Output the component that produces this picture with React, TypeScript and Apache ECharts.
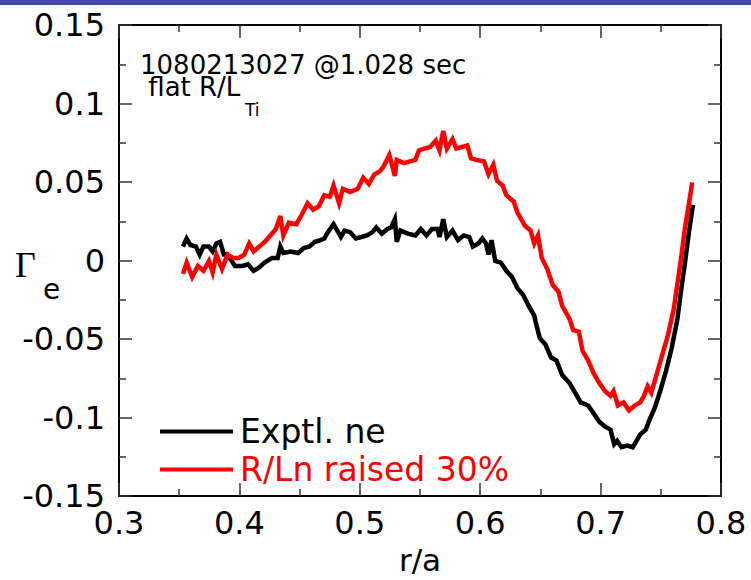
import React, { useEffect, useRef } from "react";
import * as echarts from "echarts";

// r/a positions and Γe values, Exptl. ne (black)
const expR = [0.3531, 0.3562, 0.3593, 0.3639, 0.3670, 0.3701, 0.3747, 0.3778, 0.3809, 0.3840, 0.3871, 0.3901, 0.3963, 0.4025, 0.4071, 0.4118, 0.4164, 0.4210, 0.4272, 0.4318, 0.4340, 0.4365, 0.4427, 0.4488, 0.4535, 0.4581, 0.4627, 0.4674, 0.4705, 0.4735, 0.4782, 0.4813, 0.4843, 0.4874, 0.4920, 0.4967, 0.5013, 0.5060, 0.5106, 0.5137, 0.5183, 0.5229, 0.5260, 0.5291, 0.5307, 0.5337, 0.5399, 0.5461, 0.5507, 0.5553, 0.5600, 0.5646, 0.5662, 0.5693, 0.5723, 0.5770, 0.5816, 0.5862, 0.5909, 0.5939, 0.5986, 0.6017, 0.6048, 0.6069, 0.6094, 0.6125, 0.6171, 0.6217, 0.6264, 0.6310, 0.6356, 0.6403, 0.6449, 0.6464, 0.6495, 0.6542, 0.6588, 0.6634, 0.6681, 0.6742, 0.6789, 0.6835, 0.6897, 0.6943, 0.6989, 0.7036, 0.7082, 0.7113, 0.7137, 0.7174, 0.7221, 0.7267, 0.7298, 0.7329, 0.7375, 0.7406, 0.7452, 0.7499, 0.7545, 0.7591, 0.7638, 0.7669, 0.7699, 0.7730, 0.7767];
const expG = [0.0089, 0.0140, 0.0099, 0.0089, 0.0038, 0.0089, 0.0089, 0.0058, 0.0109, 0.0119, 0.0038, 0.0038, -0.0034, -0.0034, -0.0024, -0.0065, -0.0044, -0.0013, 0.0017, 0.0017, 0.0089, 0.0048, 0.0058, 0.0048, 0.0079, 0.0089, 0.0119, 0.0130, 0.0140, 0.0181, 0.0232, 0.0191, 0.0150, 0.0191, 0.0181, 0.0140, 0.0150, 0.0160, 0.0181, 0.0211, 0.0171, 0.0201, 0.0211, 0.0263, 0.0119, 0.0191, 0.0171, 0.0160, 0.0201, 0.0160, 0.0201, 0.0201, 0.0150, 0.0263, 0.0150, 0.0191, 0.0130, 0.0160, 0.0150, 0.0089, 0.0109, 0.0140, 0.0109, 0.0038, 0.0130, -0.0003, -0.0013, -0.0065, -0.0105, -0.0177, -0.0218, -0.0289, -0.0351, -0.0402, -0.0494, -0.0535, -0.0617, -0.0637, -0.0729, -0.0780, -0.0842, -0.0903, -0.0923, -0.0974, -0.1026, -0.1056, -0.1077, -0.1169, -0.1148, -0.1189, -0.1179, -0.1189, -0.1148, -0.1107, -0.1077, -0.1015, -0.0934, -0.0821, -0.0698, -0.0555, -0.0371, -0.0187, -0.0024, 0.0160, 0.0355];

// R/Ln raised 30% (red)
const raisedR = [0.3531, 0.3562, 0.3608, 0.3655, 0.3701, 0.3747, 0.3778, 0.3809, 0.3855, 0.3901, 0.3948, 0.3994, 0.4040, 0.4081, 0.4118, 0.4164, 0.4210, 0.4257, 0.4303, 0.4340, 0.4365, 0.4411, 0.4473, 0.4519, 0.4566, 0.4612, 0.4658, 0.4705, 0.4751, 0.4782, 0.4828, 0.4859, 0.4920, 0.4982, 0.5029, 0.5075, 0.5121, 0.5168, 0.5198, 0.5245, 0.5291, 0.5307, 0.5368, 0.5415, 0.5461, 0.5492, 0.5538, 0.5584, 0.5631, 0.5662, 0.5693, 0.5723, 0.5770, 0.5801, 0.5847, 0.5893, 0.5924, 0.5970, 0.6032, 0.6069, 0.6109, 0.6140, 0.6187, 0.6217, 0.6279, 0.6310, 0.6372, 0.6418, 0.6449, 0.6480, 0.6511, 0.6557, 0.6603, 0.6650, 0.6681, 0.6742, 0.6773, 0.6819, 0.6850, 0.6897, 0.6943, 0.6989, 0.7036, 0.7082, 0.7107, 0.7144, 0.7190, 0.7236, 0.7283, 0.7329, 0.7360, 0.7391, 0.7421, 0.7468, 0.7514, 0.7560, 0.7607, 0.7638, 0.7669, 0.7699, 0.7730, 0.7761];
const raisedG = [-0.0085, -0.0013, -0.0105, -0.0034, -0.0065, -0.0003, -0.0075, 0.0038, -0.0054, 0.0038, 0.0017, 0.0017, 0.0038, 0.0109, 0.0058, 0.0089, 0.0119, 0.0160, 0.0201, 0.0283, 0.0160, 0.0242, 0.0232, 0.0293, 0.0365, 0.0324, 0.0344, 0.0416, 0.0406, 0.0477, 0.0365, 0.0457, 0.0436, 0.0457, 0.0528, 0.0488, 0.0549, 0.0569, 0.0600, 0.0672, 0.0539, 0.0641, 0.0620, 0.0631, 0.0641, 0.0702, 0.0713, 0.0723, 0.0764, 0.0702, 0.0825, 0.0713, 0.0774, 0.0713, 0.0723, 0.0733, 0.0651, 0.0641, 0.0631, 0.0549, 0.0610, 0.0508, 0.0477, 0.0416, 0.0375, 0.0304, 0.0222, 0.0191, 0.0109, 0.0160, 0.0017, -0.0054, -0.0157, -0.0198, -0.0289, -0.0371, -0.0443, -0.0453, -0.0576, -0.0637, -0.0719, -0.0780, -0.0831, -0.0862, -0.0831, -0.0923, -0.0903, -0.0954, -0.0923, -0.0903, -0.0862, -0.0801, -0.0842, -0.0719, -0.0596, -0.0473, -0.0310, -0.0146, 0.0017, 0.0201, 0.0344, 0.0498];

const seriesNames = ["Exptl. ne", "R/Ln raised 30%"];
const seriesColors = ["#000000", "#ff0000"];
const annotation1 = "1080213027 @1.028 sec";
const annotation2 = " flat R/L";
const annotation2Sub = "Ti";
const xAxisTitle = "r/a";
const yAxisSymbol = "Γ";
const yAxisSub = "e";

const FONT = "DejaVu Sans";

export default function App() {
  const ref = useRef<HTMLDivElement>(null);
  useEffect(() => {
    if (!ref.current) return;
    const chart = echarts.init(ref.current, null, { renderer: "svg" });
    const zip = (xs: number[], ys: number[]) => xs.map((x, i) => [x, ys[i]]);
    const axisCommon = {
      axisLine: { show: true, onZero: false, lineStyle: { color: "#000", width: 2 } },
      axisTick: { show: true, inside: true, length: 13, lineStyle: { color: "#333", width: 1.5 } },
      minorTick: { show: true, splitNumber: 2, length: 7, lineStyle: { color: "#333", width: 1.5 } },
      splitLine: { show: false },
      minorSplitLine: { show: false },
    };
    chart.setOption({
      animation: false,
      backgroundColor: "#fff",
      textStyle: { fontFamily: FONT },
      grid: { left: 119, top: 25, width: 602, height: 489, containLabel: false },
      xAxis: [
        {
          type: "value",
          min: 0.3,
          max: 0.8,
          interval: 0.1,
          position: "bottom",
          ...axisCommon,
          axisLabel: { color: "#000", fontSize: 32, fontFamily: FONT, margin: 11, lineHeight: 32 },
          name: xAxisTitle,
          nameLocation: "middle",
          nameGap: 35,
          nameTextStyle: { color: "#000", fontSize: 31, fontFamily: FONT, lineHeight: 26 },
        },
        {
          type: "value",
          min: 0.3,
          max: 0.8,
          interval: 0.1,
          position: "top",
          ...axisCommon,
          axisLabel: { show: false },
        },
      ],
      yAxis: [
        {
          type: "value",
          min: -0.15,
          max: 0.15,
          interval: 0.05,
          position: "left",
          ...axisCommon,
          axisLabel: { color: "#000", fontSize: 32, fontFamily: FONT, margin: 14, lineHeight: 32, padding: [0, 0, 5, 0] },
        },
        {
          type: "value",
          min: -0.15,
          max: 0.15,
          interval: 0.05,
          position: "right",
          ...axisCommon,
          axisLabel: { show: false },
        },
      ],
      legend: {
        orient: "vertical",
        left: 155,
        top: 410,
        icon: "rect",
        itemWidth: 73,
        itemHeight: 4,
        itemGap: 5,
        textStyle: { fontSize: 33, fontFamily: FONT, lineHeight: 30, padding: [0, 0, 0, 2] },
        data: [
          { name: seriesNames[0], textStyle: { color: seriesColors[0] } },
          { name: seriesNames[1], textStyle: { color: seriesColors[1] } },
        ],
      },
      series: [
        {
          name: seriesNames[0],
          type: "line",
          data: zip(expR, expG),
          showSymbol: false,
          color: seriesColors[0],
          lineStyle: { width: 4.5, color: seriesColors[0], join: "miter" },
        },
        {
          name: seriesNames[1],
          type: "line",
          data: zip(raisedR, raisedG),
          showSymbol: false,
          color: seriesColors[1],
          lineStyle: { width: 4.5, color: seriesColors[1], join: "miter" },
        },
      ],
      graphic: [
        { type: "rect", shape: { x: 0, y: 0, width: 751, height: 5 }, style: { fill: "#4646a8" } },
        {
          type: "text",
          x: 140,
          y: 75.75,
          style: {
            text: `${annotation1}\n${annotation2}`,
            font: `26px "${FONT}"`,
            lineHeight: 22.5,
            fill: "#000",
            textAlign: "left",
            textVerticalAlign: "middle",
          },
        },
        {
          type: "text",
          x: 245,
          y: 110,
          style: { text: annotation2Sub, font: `17px "${FONT}"`, lineHeight: 14, fill: "#000", textAlign: "left", textVerticalAlign: "middle" },
        },
        {
          type: "text",
          x: 15,
          y: 265,
          style: { text: yAxisSymbol, font: `36px "Liberation Serif"`, fill: "#000", textAlign: "left", textVerticalAlign: "middle" },
        },
        {
          type: "text",
          x: 43,
          y: 289,
          style: { text: yAxisSub, font: `28px "${FONT}"`, fill: "#000", textAlign: "left", textVerticalAlign: "middle" },
        },
      ],
    });
    return () => chart.dispose();
  }, []);
  return <div ref={ref} style={{ position: "absolute", left: 0, top: 0, width: 751, height: 580 }} />;
}
